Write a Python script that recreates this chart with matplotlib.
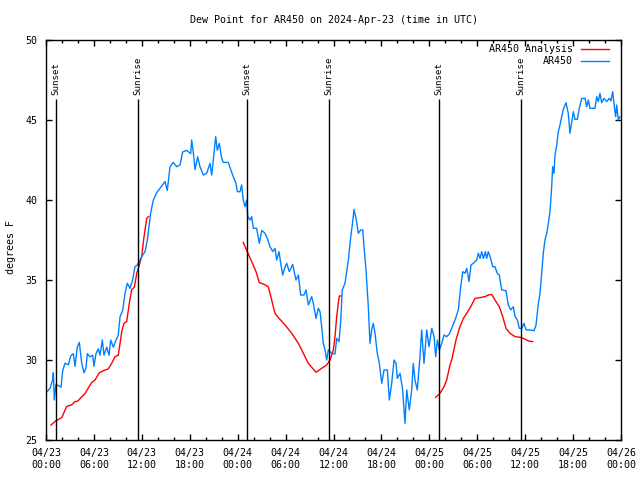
"""
Dew point plot for AR450, gnuplot-style look
"""

import numpy as np
import pandas as pd
import matplotlib
matplotlib.use('Agg')
import matplotlib.pyplot as plt
import matplotlib.dates as mdates

START = pd.Timestamp('2024-04-23 00:00')

# AR450 observations (hours since start, deg F)
obs_hours = [
    0.0, 0.5, 0.83, 0.92, 1.04, 1.25, 1.55, 1.88, 2.09, 2.38, 2.8, 3.09, 3.42, 3.63, 3.92,
    4.17, 4.47, 4.76, 5.0, 5.18, 5.5, 5.85, 6.0, 6.26, 6.55, 6.76, 7.05, 7.26, 7.6, 7.89,
    8.1, 8.43, 8.77, 9.05, 9.27, 9.6, 9.9, 10.18, 10.52, 10.85, 11.14, 11.43, 11.68, 11.98,
    12.4, 12.69, 13.1, 13.44, 13.85, 14.27, 14.9, 15.19, 15.53, 15.94, 16.36, 16.78, 17.11,
    17.62, 18.12, 18.24, 18.44, 18.66, 18.99, 19.28, 19.7, 20.12, 20.54, 20.75, 21.07, 21.25,
    21.45, 21.7, 22.0, 22.2, 22.83, 23.13, 23.45, 23.79, 23.96, 24.29, 24.5, 24.7, 24.92,
    25.13, 25.26, 25.55, 25.76, 25.96, 26.38, 26.71, 27.01, 27.42, 27.71, 28.05, 28.39,
    28.68, 28.89, 29.18, 29.39, 29.64, 29.93, 30.14, 30.47, 30.89, 31.3, 31.6, 31.89, 32.3,
    32.56, 32.85, 33.27, 33.47, 33.81, 34.1, 34.31, 34.52, 34.72, 34.94, 35.15, 35.35,
    35.56, 35.77, 36.19, 36.4, 36.69, 36.9, 37.1, 37.44, 37.86, 38.16, 38.41, 38.57, 38.82,
    39.11, 39.41, 39.66, 39.82, 40.07, 40.36, 40.57, 40.78, 40.98, 41.2, 41.48, 41.74,
    42.04, 42.33, 42.74, 42.99, 43.29, 43.58, 43.83, 43.99, 44.33, 44.66, 44.95, 45.17,
    45.49, 45.79, 45.99, 46.2, 46.49, 46.83, 47.04, 47.33, 47.67, 47.96, 48.3, 48.59, 48.8,
    49.0, 49.25, 49.55, 49.84, 50.17, 50.5, 50.8, 51.22, 51.63, 51.93, 52.18, 52.47, 52.68,
    52.97, 53.22, 53.51, 53.93, 54.13, 54.35, 54.56, 54.78, 55.01, 55.18, 55.38, 55.68,
    55.94, 56.22, 56.51, 56.76, 57.06, 57.6, 57.89, 58.19, 58.52, 58.73, 59.02, 59.27,
    59.57, 59.85, 60.11, 60.61, 61.11, 61.36, 61.65, 61.86, 62.07, 62.27, 62.48, 62.7,
    62.9, 63.11, 63.32, 63.44, 63.61, 63.74, 63.95, 64.15, 64.36, 64.57, 64.78, 65.11,
    65.4, 65.61, 65.83, 66.03, 66.24, 66.53, 66.78, 67.08, 67.5, 67.7, 67.91, 68.12, 68.74,
    68.96, 69.16, 69.37, 69.58, 69.87, 70.2, 70.53, 70.74, 70.96, 71.16, 71.33, 71.46,
    71.66, 71.85,
]
obs_dewpt = [
    27.95, 28.23, 28.75, 29.2, 27.5, 28.48, 28.4, 28.3, 29.33, 29.8, 29.7, 30.25, 30.4, 29.6, 30.8,
    31.1, 29.8, 29.2, 29.5, 30.4, 30.2, 30.3, 29.6, 30.4, 30.7, 30.3, 31.25, 30.3, 30.8, 30.3,
    31.25, 30.8, 31.25, 31.56, 32.7, 33.1, 34.17, 34.8, 34.48, 35.0, 35.83, 35.94, 36.15, 36.46,
    36.77, 37.5, 39.17, 40.0, 40.45, 40.73, 41.15, 40.6, 42.08, 42.35, 42.08, 42.19, 43.0,
    43.1, 42.9, 43.75, 43.0, 41.9, 42.7, 42.08, 41.56, 41.67, 42.29, 41.56, 43.1, 43.96,
    43.1, 43.54, 42.6, 42.35, 42.35, 41.9, 41.46, 41.04, 40.52, 40.52, 40.94, 40.0, 39.58,
    40.0, 38.96, 38.75, 38.96, 38.23, 38.23, 37.29, 38.1, 37.92, 37.6, 37.08, 36.77,
    36.98, 36.25, 36.77, 36.04, 35.31, 35.83, 36.04, 35.52, 35.98, 35.0, 35.31, 34.06, 34.06,
    34.38, 33.44, 33.96, 33.54, 32.6, 33.23, 33.02, 32.08, 31.04, 30.63, 30.0, 30.63,
    30.52, 30.42, 30.38, 31.35, 31.15, 32.4, 34.38, 34.8, 36.25, 37.7, 38.65, 39.42, 38.85,
    37.92, 38.13, 38.13, 37.08, 35.63, 33.33, 31.04, 31.88, 32.29, 31.67, 30.42, 29.79,
    28.54, 29.38, 29.38, 27.5, 28.54, 30.0, 29.79, 28.85, 29.17, 28.13, 26.04, 28.13,
    26.88, 28.13, 29.79, 28.75, 28.13, 30.21, 31.88, 29.79, 31.88, 30.83, 31.98, 31.46, 30.21,
    31.25, 30.63, 31.04, 31.56, 31.46, 31.62, 31.98, 32.5, 33.13, 34.58, 35.52, 35.42, 35.73,
    34.9, 35.94, 36.04, 36.25, 36.67, 36.35, 36.77, 36.35, 36.77, 36.35, 36.77, 36.35,
    35.83, 35.83, 35.42, 35.31, 34.38, 34.33, 33.44, 33.13, 33.33, 32.71, 32.5, 31.98,
    31.98, 32.29, 31.88, 31.88, 31.83, 32.19, 33.54, 34.17, 35.42, 36.67, 37.5, 37.92,
    38.54, 39.27, 40.83, 42.08, 41.67, 42.81, 43.44, 44.27, 44.69, 45.21, 45.67, 46.08,
    45.42, 44.17, 44.9, 45.52, 45.04, 45.04, 45.73, 46.35, 46.35, 45.83, 46.25, 45.73, 45.73,
    46.46, 46.15, 46.67, 46.08, 46.35, 46.15, 46.35, 46.2, 46.77, 45.83, 45.21, 45.94,
    45.0, 45.2,
]

# AR450 analysis (NaN breaks between the three overnight runs)
ana_hours = [
    0.63, 1.25, 1.97, 2.59, 3.22, 3.63, 4.0, 4.47, 4.88, 5.3, 5.72, 6.14, 6.67, 7.17, 7.8,
    8.23, 8.64, 9.05, 9.27, 9.48, 9.77, 10.1, 10.43, 10.73, 11.06, 11.36, 11.68, 11.98,
    12.27, 12.61, 12.81, 18.0,
    24.7, 25.2, 25.76, 26.3, 26.71, 27.21, 27.84, 28.26, 28.68, 29.3, 29.93, 30.77, 31.6,
    32.22, 32.85, 33.81, 34.52, 35.15, 35.56, 35.98, 36.19, 36.4, 36.6, 36.73, 36.94, 42.0,
    48.8, 49.34, 49.84, 50.17, 50.59, 50.8, 51.34, 51.76, 52.26, 52.68, 53.18, 53.72, 54.35,
    54.97, 55.38, 55.81, 56.22, 56.76, 57.19, 57.6, 58.1, 58.73, 59.35, 59.98, 60.39, 60.94,
]
ana_dewpt = [
    25.94, 26.2, 26.4, 27.1, 27.2, 27.4, 27.44, 27.7, 27.9, 28.25, 28.6, 28.75, 29.2, 29.33, 29.44,
    29.8, 30.2, 30.3, 31.04, 31.77, 32.3, 32.4, 33.54, 34.4, 34.55, 35.4, 35.94, 36.46,
    37.7, 38.85, 38.96, np.nan,
    37.35, 36.77, 36.15, 35.52, 34.83, 34.75, 34.58, 33.75, 32.9, 32.54, 32.19, 31.67, 31.04,
    30.42, 29.79, 29.23, 29.48, 29.69, 30.0, 30.63, 31.46, 32.7, 33.54, 34.0, 34.0, np.nan,
    27.67, 27.92, 28.33, 28.75, 29.69, 30.0, 31.25, 31.98, 32.6, 32.92, 33.33, 33.85, 33.9,
    33.96, 34.06, 34.1, 33.75, 33.33, 32.71, 31.98, 31.67, 31.46, 31.42, 31.31, 31.19, 31.15,
]

# sun events (hours since start)
sunset_hours = [1.21, 25.13, 49.25]
sunrise_hours = [11.56, 35.44, 59.48]

FONT = 'DejaVu Sans Mono'
FS = 7.2


def to_time(hours):
    return START + pd.to_timedelta(np.asarray(hours, dtype=float), unit='h')


def main():
    plt.rcParams['font.family'] = FONT
    plt.rcParams['font.size'] = FS

    fig = plt.figure(figsize=(6.4, 4.8), dpi=100)
    ax = fig.add_axes([46 / 640, 40 / 480, 575 / 640, 400 / 480])

    ax.plot(to_time(ana_hours), ana_dewpt, color='#ff0000', lw=1, label='AR450 Analysis')
    ax.plot(to_time(obs_hours), obs_dewpt, color='#0080ff', lw=1, label='AR450')

    # sunset / sunrise markers
    for name, hrs in [('Sunset', sunset_hours), ('Sunrise', sunrise_hours)]:
        for t in to_time(hrs):
            ax.vlines(t, 25, 46.3, color='black', lw=1)
            ax.text(t, 46.55, name, rotation=90, ha='center', va='bottom', fontsize=6.6)

    ax.set_xlim(START, START + pd.Timedelta(hours=72))
    ax.set_ylim(25, 50)
    ax.set_yticks(np.arange(25, 51, 5))

    ax.xaxis.set_major_locator(mdates.HourLocator(byhour=[0, 6, 12, 18]))
    ax.xaxis.set_minor_locator(mdates.HourLocator(byhour=range(0, 24, 2)))
    ax.xaxis.set_major_formatter(mdates.DateFormatter('%m/%d\n%H:%M'))

    ax.tick_params(which='both', direction='in', top=True, right=True, width=1, color='black')
    ax.tick_params(which='major', length=4.5, pad=6, labelsize=FS)
    ax.tick_params(which='minor', length=2.5)
    for s in ax.spines.values():
        s.set_linewidth(1)
        s.set_color('black')

    ax.legend(loc='upper right', bbox_to_anchor=(1 - 6 / 575, 1 + 2 / 400),
              frameon=False, markerfirst=False, fontsize=FS,
              handlelength=2.8, handletextpad=0.8, labelspacing=0.2,
              borderaxespad=0.3, borderpad=0.3)

    fig.text(333.5 / 640, 1 - 20 / 480, 'Dew Point for AR450 on 2024-Apr-23 (time in UTC)',
             ha='center', va='center', fontsize=FS)
    fig.text(11 / 640, 0.485, 'degrees F', rotation=90, ha='center', va='center', fontsize=FS)

    fig.savefig('out.png', dpi=100)
    plt.close(fig)


if __name__ == "__main__":
    main()
